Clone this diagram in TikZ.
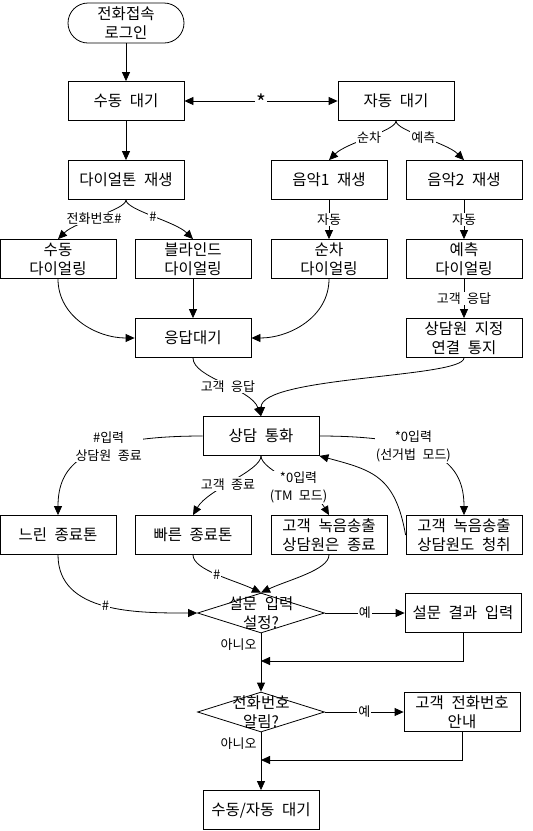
\documentclass[tikz,border=0pt]{standalone}
\usepackage{fontspec}
\setmainfont{Noto Sans CJK KR}[WordSpace=2.2]
\usepackage{tikz}
\usetikzlibrary{shapes, arrows, arrows.meta, positioning}
\tikzstyle{box}   = [draw, rectangle, minimum width=116pt, minimum height=39pt, inner sep=1pt, align=center, font=\fontsize{15.5}{19}\selectfont]
\tikzstyle{term}  = [box, rounded corners=20pt, minimum height=40pt]
\tikzstyle{dia}   = [draw, diamond, minimum width=127pt, minimum height=40pt, inner sep=0pt]
\tikzstyle{dtext} = [align=center, inner sep=0pt, font=\fontsize{15.5}{19}\selectfont]
\tikzstyle{lbl}   = [fill=white, inner sep=1pt, align=center, font=\fontsize{13}{18}\selectfont]
\tikzstyle{arr}   = [every edge/.style={draw, -{Triangle[length=9pt, width=8pt]}}]
\tikzstyle{both}  = [every edge/.style={draw, {Triangle[length=9pt, width=8pt]}-{Triangle[length=9pt, width=8pt]}}]

\begin{document}
\begin{tikzpicture}[x=1pt, y=1pt, line width=0.8pt]

\useasboundingbox (0,0) rectangle (533,-831);

% nodes
\node [term] at (126, -23)   (login)    {전화접속\\로그인};
\node [box]  at (126, -101)  (manual)   {수동 대기};
\node [box]  at (396, -101)  (auto)     {자동 대기};
\node [box]  at (126, -180)  (dialtone) {다이얼톤 재생};
\node [box]  at (329, -180)  (music1)   {음악1 재생};
\node [box]  at (464, -180)  (music2)   {음악2 재생};
\node [box]  at (58,  -259)  (mdial)    {수동\\다이얼링};
\node [box]  at (193, -259)  (bdial)    {블라인드\\다이얼링};
\node [box]  at (329, -259)  (sdial)    {순차\\다이얼링};
\node [box]  at (464, -259)  (pdial)    {예측\\다이얼링};
\node [box]  at (193, -338)  (wait)     {응답대기};
\node [box]  at (464, -338)  (notify)   {상담원 지정\\연결 통지};
\node [box]  at (261, -436)  (call)     {상담 통화};
\node [box]  at (58,  -535)  (slow)     {느린 종료톤};
\node [box]  at (193, -535)  (fast)     {빠른 종료톤};
\node [box]  at (329, -535)  (tmend)    {고객 녹음송출\\상담원은 종료};
\node [box]  at (464, -535)  (listen)   {고객 녹음송출\\상담원도 청취};
\node [dia, label={[dtext]center:{설문 입력\\설정?}}]  at (261, -613) (survey) {};
\node [box]  at (463, -613)  (result)   {설문 결과 입력};
\node [dia, label={[dtext]center:{전화번호\\알림?}}]   at (261, -712) (phone)  {};
\node [box]  at (462, -712)  (announce) {고객 전화번호\\안내};
\node [box]  at (261, -810)  (final)    {수동/자동 대기};
\coordinate (join1) at (261, -661);
\coordinate (join2) at (261, -760);

%  edges
\path [both] (manual) edge node [lbl, font=\fontsize{21}{18}\selectfont, yshift=-1pt] {*} (auto);

\path [arr] (login)       edge                                                        (manual)
            (manual)      edge                                                        (dialtone)
            (auto.south)  edge [out=-90, in=45,  out distance=10pt, in distance=25pt]  node [lbl] {순차}       (music1.north)
            (auto.south)  edge [out=-90, in=135, out distance=10pt, in distance=25pt]  node [lbl] {예측}       (music2.north)
            (dialtone.south) edge [out=-90, in=45,  out distance=10pt, in distance=25pt] node [lbl, pos=0.55] {전화번호\#} (mdial.north)
            (dialtone.south) edge [out=-90, in=135, out distance=10pt, in distance=25pt] node [lbl] {\#}        (bdial.north)
            (music1)      edge                                                        node [lbl] {자동}       (sdial)
            (music2)      edge                                                        node [lbl] {자동}       (pdial)
            (pdial)       edge                                                        node [lbl] {고객 응답}  (notify)
            (mdial.south) edge [out=-90, in=180]                                      (wait.west)
            (bdial)       edge                                                        (wait)
            (sdial.south) edge [out=-90, in=0]                                        (wait.east)
            (wait.south)  edge [out=-90, in=110, out distance=20pt, in distance=30pt] node [lbl, pos=0.55] {고객 응답} (call.north)
            (notify.south) edge [out=-90, in=90, out distance=20pt, in distance=40pt] (call.north);

\path [arr] (call.west)   edge [out=180, in=90, out distance=120pt, in distance=50pt] node [lbl, pos=0.35] {\#입력\\상담원 종료}   (slow.north)
            (call.east)   edge [out=0,   in=90, out distance=120pt, in distance=50pt] node [lbl, pos=0.35] {*0입력\\(선거법 모드)} (listen.north)
            (call.south)  edge [out=-90, in=60,  out distance=15pt, in distance=30pt] node [lbl, pos=0.55] {고객 종료}          (fast.north)
            (call.south)  edge [out=-90, in=120, out distance=15pt, in distance=30pt] node [lbl, pos=0.6]  {*0입력\\(TM 모드)}  (tmend.north)
            (listen.west) edge [out=100, in=-15, out distance=60pt, in distance=55pt]                                   (call.south east)
            (slow.south)  edge [out=-90, in=180]                                      node [lbl] {\#}  (survey.west)
            (fast.south)  edge [out=-90, in=155, out distance=15pt, in distance=30pt] node [lbl] {\#}  (survey.north)
            (tmend.south) edge [out=-90, in=25,  out distance=15pt, in distance=30pt]                  (survey.north)
            (survey.east) edge                                                        node [lbl] {예}  (result.west)
            (survey.south) edge                                   node [lbl, left=3pt, pos=0.2] {아니오} (phone.north)
            (phone.east)  edge                                                        node [lbl] {예}  (announce.west)
            (phone.south) edge                                    node [lbl, left=3pt, pos=0.2] {아니오} (final.north);

\draw [-{Triangle[length=9pt, width=8pt]}] (result.south)   |- (join1);
\draw [-{Triangle[length=9pt, width=8pt]}] (announce.south) |- (join2);

\end{tikzpicture}
\end{document}
